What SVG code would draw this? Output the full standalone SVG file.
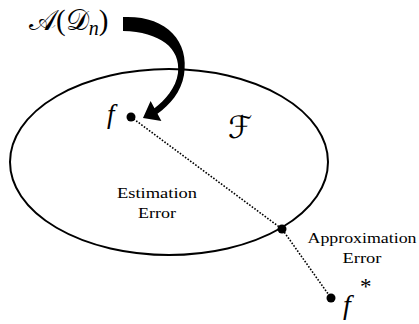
<svg xmlns="http://www.w3.org/2000/svg" width="419" height="324" viewBox="0 0 419 324">
<style>
.math{font-family:"Liberation Serif","Times New Roman",serif;font-style:italic;fill:#000}
.scr{font-family:"DejaVu Sans","Noto Sans",serif;font-style:normal;fill:#000}
.up{font-family:"Liberation Serif","Times New Roman",serif;font-style:normal;fill:#000}
.lbl{font-family:"Liberation Serif","Times New Roman",serif;font-size:15px;fill:#000;text-anchor:middle}
.dot{fill:#000}
</style>
<rect width="419" height="324" fill="#fff"/>
<g id="set-F">
<ellipse cx="169" cy="162" rx="159" ry="93" fill="none" stroke="#000" stroke-width="2"/>
<text class="scr" x="228" y="138" font-size="31">ℱ</text>
</g>
<g id="connectors">
<polyline points="131,117 282,229 331,298" fill="none" stroke="#000" stroke-width="1.6" stroke-dasharray="1.6,1.6"/>
<path d="M123,17 C165,15 190,40 184,75 C181,92 170,105 157.5,113.7 L161.4,121 L143,118 L150.6,101 L154.5,108.3 C165,100 176,88 178,73 C181,48 160,32 123,31 Z" fill="#000"/>
</g>
<g id="algo">
<text x="29" y="30" font-size="29"><tspan class="scr">𝒜</tspan><tspan class="up">(</tspan><tspan class="scr">𝒟</tspan><tspan class="math" font-size="20" dy="5">n</tspan><tspan class="up" dy="-5">)</tspan></text>
</g>
<g id="node-f">
<circle class="dot" cx="131" cy="117" r="4.5"/>
<text class="math" x="107" y="123" font-size="27">f</text>
</g>
<g id="node-proj">
<circle class="dot" cx="282" cy="229" r="4.5"/>
</g>
<g id="node-fstar">
<circle class="dot" cx="331" cy="298" r="4.5"/>
<text class="math" x="343" y="314" font-size="28">f</text>
<text class="up" x="360" y="294" font-size="23">*</text>
</g>
<g id="label-estimation">
<text class="lbl" x="157" y="198" textLength="80" lengthAdjust="spacingAndGlyphs">Estimation</text>
<text class="lbl" x="157" y="218" textLength="38" lengthAdjust="spacingAndGlyphs">Error</text>
</g>
<g id="label-approx">
<text class="lbl" x="362" y="243" textLength="109" lengthAdjust="spacingAndGlyphs">Approximation</text>
<text class="lbl" x="362" y="263" textLength="39" lengthAdjust="spacingAndGlyphs">Error</text>
</g>
</svg>
